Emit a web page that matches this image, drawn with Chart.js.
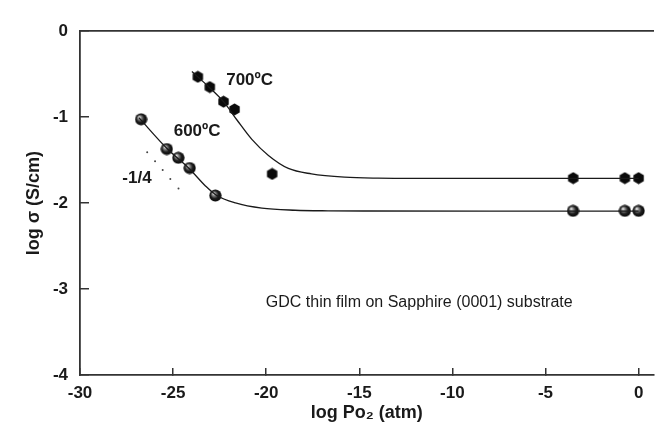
<!DOCTYPE html>
<html><head><meta charset="utf-8">
<script src="https://cdn.jsdelivr.net/npm/chart.js@4/dist/chart.umd.min.js"></script>
<style>html,body{margin:0;padding:0;background:#fff;}</style>
</head><body>
<canvas id="c" width="661" height="440"></canvas>
<script>
// ---- data ----
const xTicks = [-30, -25, -20, -15, -10, -5, 0];
const yTicks = [-4, -3, -2, -1, 0];

const pts700X = [-23.67, -23.03, -22.29, -21.70, -19.68, -3.51, -0.74, 0];
const pts700Y = [-0.53, -0.65, -0.82, -0.91, -1.66, -1.71, -1.71, -1.71];

const pts600X = [-26.72, -25.34, -24.72, -24.11, -22.73, -3.52, -0.74, 0];
const pts600Y = [-1.025, -1.371, -1.473, -1.592, -1.912, -2.09, -2.09, -2.09];

const fit700X = [-23.99, -23.04, -22.27, -21.57, -20.77, -19.88, -18.81, -17.57, -15.79, -14.01, -11.88, -6, 0];
const fit700Y = [-0.470, -0.657, -0.826, -1.033, -1.259, -1.446, -1.597, -1.660, -1.698, -1.710, -1.713, -1.713, -1.713];

const fit600X = [-26.84, -25.30, -24.14, -23.25, -22.68, -21.65, -20.23, -18.45, -16.68, -14.55, -8, 0];
const fit600Y = [-1.006, -1.371, -1.597, -1.803, -1.908, -1.998, -2.059, -2.083, -2.090, -2.092, -2.093, -2.093];

const slopeX = [-26.39, -25.97, -25.56, -25.15, -24.71];
const slopeY = [-1.408, -1.513, -1.615, -1.721, -1.829];

const noteTexts = ['700ºC', '600ºC', '-1/4', 'GDC thin film on Sapphire (0001) substrate'];
const noteX = [-20.89, -23.71, -26.94, -11.78];
const noteY = [-0.569, -1.17, -1.707, -3.155];

// ---- helpers ----
const FONT = '"Liberation Sans", Arial, Helvetica, sans-serif';
const pair = (xs, ys) => xs.map((v, i) => ({x: v, y: ys[i]}));

function hexMarker() {
  const c = document.createElement('canvas'); c.width = 13; c.height = 13;
  const g = c.getContext('2d'); g.fillStyle = '#0a0a0a'; g.beginPath();
  for (let i = 0; i < 6; i++) {
    const a = Math.PI / 6 + i * Math.PI / 3;
    const px = 6.5 + 6 * Math.cos(a), py = 6.5 + 6 * Math.sin(a);
    i ? g.lineTo(px, py) : g.moveTo(px, py);
  }
  g.closePath(); g.fill(); return c;
}
function ballMarker() {
  const c = document.createElement('canvas'); c.width = 13; c.height = 13;
  const g = c.getContext('2d');
  const gr = g.createRadialGradient(4.5, 4.3, 0.3, 6.5, 6.5, 6.3);
  gr.addColorStop(0, '#f2f2f2'); gr.addColorStop(0.25, '#8a8a8a');
  gr.addColorStop(0.6, '#1e1e1e'); gr.addColorStop(1, '#050505');
  g.fillStyle = gr; g.beginPath(); g.arc(6.5, 6.5, 6.1, 0, Math.PI * 2); g.fill();
  return c;
}

const notesPlugin = {
  id: 'notes',
  afterDatasetsDraw(chart) {
    const {ctx, scales: {x, y}} = chart;
    ctx.save();
    ctx.fillStyle = '#1a1a1a'; ctx.textAlign = 'center'; ctx.textBaseline = 'middle';
    noteTexts.forEach((t, i) => {
      ctx.font = (i < 3 ? 'bold 17px ' : '16px ') + FONT;
      ctx.fillText(t, x.getPixelForValue(noteX[i]), y.getPixelForValue(noteY[i]));
    });
    ctx.restore();
  }
};

const axisColor = '#333';
new Chart(document.getElementById('c'), {
  type: 'scatter',
  data: {
    datasets: [
      {data: pair(fit700X, fit700Y), showLine: true, borderColor: '#1a1a1a', borderWidth: 1.3,
       pointRadius: 0, cubicInterpolationMode: 'monotone'},
      {data: pair(fit600X, fit600Y), showLine: true, borderColor: '#1a1a1a', borderWidth: 1.3,
       pointRadius: 0, cubicInterpolationMode: 'monotone'},
      {data: pair(pts700X, pts700Y), pointStyle: hexMarker(), pointRadius: 6.5},
      {data: pair(pts600X, pts600Y), pointStyle: ballMarker(), pointRadius: 6.5},
      {data: pair(slopeX, slopeY), pointRadius: 1, pointBackgroundColor: '#444', pointBorderWidth: 0}
    ]
  },
  options: {
    responsive: false, animation: false,
    layout: {padding: {top: 20, right: 3, left: 0, bottom: 0}},
    plugins: {legend: {display: false}, tooltip: {enabled: false}},
    scales: {
      x: {
        type: 'linear', position: 'bottom', min: -30, max: 0.8,
        afterBuildTicks: s => { s.ticks = xTicks.map(v => ({value: v})); },
        afterFit: s => { s.height = 65; },
        grid: {drawOnChartArea: false, drawTicks: true, tickLength: -7, color: axisColor, lineWidth: 1.5},
        border: {display: true, color: axisColor, width: 1.8},
        ticks: {padding: 15, color: '#1a1a1a', font: {family: FONT, size: 17, weight: 'bold'}, maxRotation: 0},
        title: {display: true, text: 'log Po₂ (atm)', color: '#1a1a1a',
                font: {family: FONT, size: 18, weight: 'bold'}, padding: {top: 0, bottom: 16}}
      },
      x2: {
        type: 'linear', position: 'top', min: -30, max: 0.8,
        afterFit: s => { s.height = 0; },
        grid: {drawOnChartArea: false, drawTicks: false},
        border: {display: true, color: axisColor, width: 1.8},
        ticks: {display: false}
      },
      y: {
        type: 'linear', position: 'left', min: -4, max: 0,
        afterBuildTicks: s => { s.ticks = yTicks.map(v => ({value: v})); },
        afterFit: s => { s.width = 80; },
        grid: {drawOnChartArea: false, drawTicks: true, tickLength: -9, color: axisColor, lineWidth: 1.5},
        border: {display: true, color: axisColor, width: 1.8},
        ticks: {padding: 21, color: '#1a1a1a', font: {family: FONT, size: 17, weight: 'bold'}},
        title: {display: true, text: 'log σ (S/cm)', color: '#1a1a1a',
                font: {family: FONT, size: 18, weight: 'bold'}, padding: {top: 23, bottom: 0}}
      }
    }
  },
  plugins: [notesPlugin]
});
</script>
</body></html>
